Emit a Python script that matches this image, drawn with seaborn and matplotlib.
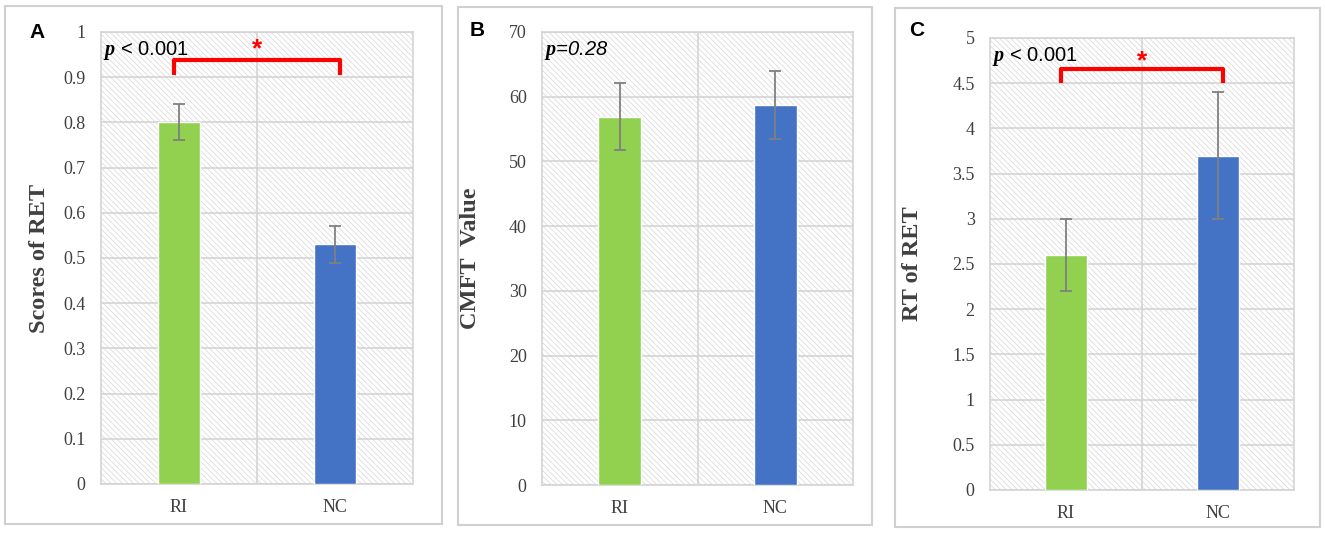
import numpy as np
import pandas as pd
import matplotlib
matplotlib.use("Agg")
import matplotlib.pyplot as plt
from matplotlib.patches import Rectangle
import seaborn as sns

# data
groups = ["RI", "NC"]
scores_ret = [0.80, 0.53]
scores_ret_sd = [0.04, 0.04]
cmft_value = [56.9, 58.7]
cmft_value_sd = [5.2, 5.3]
rt_ret = [2.6, 3.7]
rt_ret_sd = [0.4, 0.7]

bar_colors = ["#92D050", "#4472C4"]

sns.set_theme(style="white")
plt.rcParams["font.family"] = ["Liberation Serif", "DejaVu Serif"]
plt.rcParams["hatch.linewidth"] = 0.5
plt.rcParams["mathtext.fontset"] = "custom"
plt.rcParams["mathtext.it"] = "Liberation Serif:italic:bold"
plt.rcParams["mathtext.rm"] = "Liberation Sans"

W, H = 1325, 533
fig = plt.figure(figsize=(W / 100, H / 100), dpi=100)


def px_box(l, t, r, b):
    return [l / W, 1 - b / H, (r - l) / W, (b - t) / H]


# panel frames
for l, t, r, b in [(5, 6, 442, 524), (458, 7, 872, 525), (895, 8, 1320, 527)]:
    fig.patches.append(Rectangle((l / W, 1 - b / H), (r - l) / W, (b - t) / H,
                                 transform=fig.transFigure, fill=False,
                                 edgecolor="#d0d0d0", lw=1.5))

panels = [
    dict(box=(101, 32, 413, 484), vals=scores_ret, sd=scores_ret_sd, ymax=1.0, step=0.1,
         ylabel="Scores of RET", letter="A", letter_xy=(37, 32), ylab_x=40,
         ptext="$p$ < 0.001", pstyle="normal", bracket=(0.905, 0.937), star=0.962),
    dict(box=(542, 32, 853, 485), vals=cmft_value, sd=cmft_value_sd, ymax=70, step=10,
         ylabel="CMFT  Value", letter="B", letter_xy=(477, 30), ylab_x=471,
         ptext="$p$=0.28", pstyle="italic", bracket=None, star=None),
    dict(box=(990, 38, 1294, 490), vals=rt_ret, sd=rt_ret_sd, ymax=5.0, step=0.5,
         ylabel="RT of RET", letter="C", letter_xy=(917, 31), ylab_x=912,
         ptext="$p$ < 0.001", pstyle="normal", bracket=(4.5, 4.66), star=4.745),
]

for p in panels:
    ax = fig.add_axes(px_box(*p["box"]))
    ax.add_patch(Rectangle((0, 0), 1, 1, transform=ax.transAxes, facecolor="white",
                           edgecolor="#d6d6d6", hatch="\\\\\\\\\\\\", lw=0, zorder=0))
    df = pd.DataFrame({"group": groups, "value": p["vals"]})
    sns.barplot(data=df, x="group", y="value", hue="group", palette=bar_colors,
                width=0.275, errorbar=None, legend=False, ax=ax, zorder=3,
                saturation=1)
    ax.errorbar(np.arange(len(groups)), p["vals"], yerr=p["sd"], fmt="none",
                ecolor="#808080", elinewidth=1.3, capsize=4, capthick=1.3, zorder=4)
    ax.set_xlim(-0.5, 1.5)
    ax.set_ylim(0, p["ymax"])
    ax.set_yticks(np.arange(0, p["ymax"] + p["step"] / 2, p["step"]))
    ax.set_yticklabels([f"{v:g}" for v in ax.get_yticks()])
    for yv in ax.get_yticks():
        ax.axhline(yv, color="#d4d4d4", lw=1.2, zorder=1)
    ax.axvline(0.5, color="#d4d4d4", lw=1.2, zorder=1)
    for s in ax.spines.values():
        s.set_color("#d4d4d4")
        s.set_linewidth(1.2)
    ax.tick_params(axis="y", length=0, pad=11, labelsize=13, colors="#404040")
    ax.tick_params(axis="x", length=0, pad=11, labelsize=13, colors="#404040")
    ax.set_xlabel("")
    ax.set_ylabel("")
    fig.text(p["ylab_x"] / W, 1 - (p["box"][1] + p["box"][3]) / 2 / H, p["ylabel"],
             rotation=90, ha="center", va="center", fontsize=17.5, fontweight="bold",
             color="#404040")
    fig.text(p["letter_xy"][0] / W, 1 - p["letter_xy"][1] / H, p["letter"],
             ha="center", va="center", fontsize=15, fontweight="bold",
             family="Liberation Sans", color="black")
    ax.text(0.005, 0.985, p["ptext"], transform=ax.transAxes, ha="left", va="top",
            fontsize=14.5, family="Liberation Sans", style=p["pstyle"], color="black",
            zorder=5)
    if p["bracket"] is not None:
        lo, hi = p["bracket"]
        ax.plot([-0.03, -0.03, 1.03, 1.03], [lo, hi, hi, lo], color="#ff0000",
                lw=3, solid_joinstyle="round", solid_capstyle="butt", zorder=5)
        ax.text(0.5, p["star"], "*", ha="center", va="center", fontsize=19,
                fontweight="bold", color="#ff0000", family="Liberation Sans", zorder=5)

fig.savefig("out.png", dpi=100)
